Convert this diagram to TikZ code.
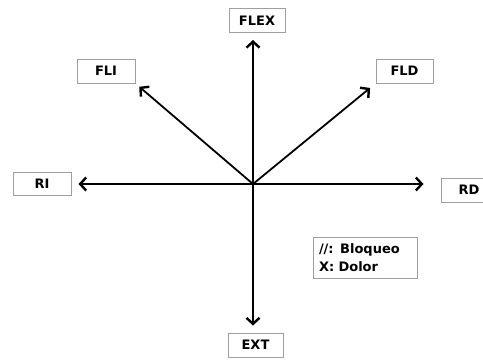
\documentclass[tikz,border=0pt]{standalone}
\usepackage{fontspec}
\setmainfont{DejaVu Sans}
\usetikzlibrary{arrows.meta}
\begin{document}
\begin{tikzpicture}[x=1pt,y=1pt,every node/.style={font=\bfseries\fontsize{13}{18}\selectfont},
  lbl/.style={draw=gray!75,line width=1pt,minimum width=56pt,minimum height=24pt,inner sep=0pt},
  axis/.style={line width=1.8pt,-{Straight Barb[length=6pt,width=13pt,line width=2.4pt]}}]
  \useasboundingbox (0,0) rectangle (483,360);
  \fill[white] (0,0) rectangle (483,360);
  \coordinate (O) at (253,176);
  \node[lbl] (flex) at (257,339.5) {FLEX};
  \node[lbl,minimum width=58pt] (fli) at (106,289) {FLI};
  \node[lbl,minimum width=57pt] (fld) at (404.5,289) {FLD};
  \node[lbl,minimum width=58pt,minimum height=23pt] (ri) at (42,176.5) {RI};
  \node[lbl] (rd) at (469,170) {RD};
  \node[lbl,minimum width=55pt] (ext) at (255.5,15) {EXT};
  \node[draw=gray!75,line width=1pt,minimum width=104pt,minimum height=41pt,
    text width=92pt,align=left,inner sep=3pt] (leg) at (365,102.5) {//: Bloqueo\\X: Dolor};
  \draw[axis,shorten >=7pt] (O) -- (O|-flex.south);
  \draw[axis,shorten >=7pt] (O) -- (O|-ext.north);
  \draw[axis,shorten >=7pt] (O) -- (O-|ri.east);
  \draw[axis,shorten >=17pt] (O) -- (O-|rd.west);
  \draw[axis,shorten >=5pt] (O) -- (fli.south east);
  \draw[axis,shorten >=7pt] (O) -- (fld.south west);
\end{tikzpicture}
\end{document}
